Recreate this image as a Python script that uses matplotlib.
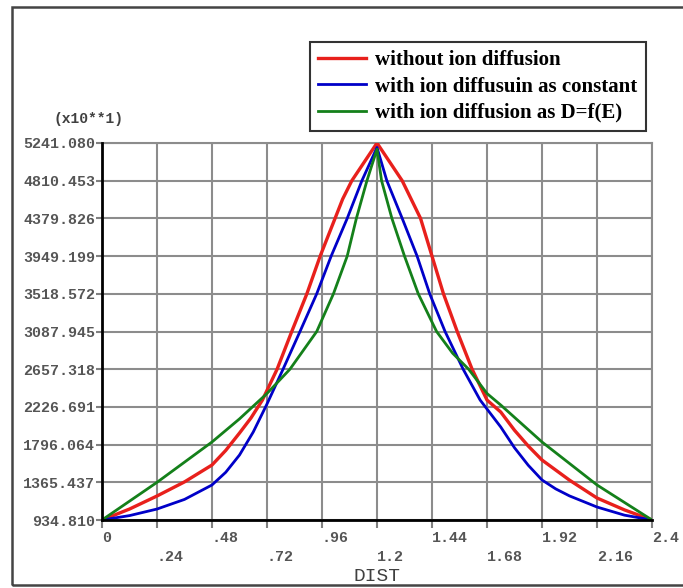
import matplotlib
matplotlib.use("Agg")
import matplotlib.pyplot as plt
from matplotlib.patches import Rectangle

W, H = 683, 588

# values (y in units of x10**1)
red_x = [0.0, 0.12, 0.24, 0.36, 0.48, 0.54, 0.60, 0.65, 0.70, 0.764, 0.828,
         0.894, 0.952, 1.017, 1.05, 1.09, 1.20, 1.31, 1.39, 1.44, 1.49, 1.55,
         1.615, 1.68, 1.74, 1.80, 1.86, 1.92, 2.04, 2.16, 2.28, 2.40]
red_y = [934.8, 1060, 1209, 1370, 1563, 1730, 1928, 2100, 2305, 2657, 3088,
         3519, 3949, 4380, 4600, 4810, 5241, 4810, 4380, 3949, 3519, 3088,
         2657, 2305, 2168, 1960, 1780, 1620, 1390, 1186, 1050, 934.8]

blue_x = [0.0, 0.12, 0.24, 0.36, 0.48, 0.54, 0.60, 0.66, 0.72, 0.79, 0.864,
          0.937, 1.00, 1.07, 1.134, 1.20, 1.243, 1.31, 1.375, 1.43, 1.497,
          1.576, 1.65, 1.74, 1.80, 1.86, 1.92, 1.98, 2.04, 2.16, 2.28, 2.40]
blue_y = [934.8, 985, 1060, 1170, 1335, 1480, 1677, 1940, 2260, 2657, 3088,
          3519, 3949, 4380, 4810, 5190, 4810, 4380, 3949, 3519, 3088,
          2657, 2305, 1997, 1760, 1560, 1392, 1290, 1210, 1083, 990, 934.8]

green_x = [0.0, 0.24, 0.48, 0.60, 0.72, 0.82, 0.937, 1.01, 1.07, 1.11, 1.156,
           1.20, 1.22, 1.265, 1.32, 1.38, 1.46, 1.53, 1.60, 1.68, 1.74, 1.92,
           2.16, 2.40]
green_y = [934.8, 1365, 1826, 2090, 2380, 2657, 3088, 3519, 3949, 4380, 4810,
           5170, 4810, 4380, 3949, 3519, 3088, 2840, 2657, 2380, 2248, 1826,
           1335, 934.8]

series_labels = ["without ion diffusion",
                 "with ion diffusuin as constant",
                 "with ion diffusion as D=f(E)"]

x_tick_labels = ["0", ".24", ".48", ".72", ".96", "1.2", "1.44", "1.68",
                 "1.92", "2.16", "2.4"]
y_tick_labels = ["934.810", "1365.437", "1796.064", "2226.691", "2657.318",
                 "3087.945", "3518.572", "3949.199", "4379.826", "4810.453",
                 "5241.080"]

TICK_FONT = dict(family="Liberation Mono", weight="bold", size=10.8, color="#555555")

fig = plt.figure(figsize=(W / 100, H / 100), dpi=100)
fig.patch.set_facecolor("white")

# outer frame of the old screenshot
fig.add_artist(Rectangle((12 / W, 3 / H), 1.0, (585 - 7) / H,
                         transform=fig.transFigure, fill=False,
                         edgecolor="#444444", linewidth=1.8))

ax = fig.add_axes([102 / W, 1 - 520 / H, 550 / W, 377 / H])

x_ticks = [float(t) for t in x_tick_labels]
y_ticks = [float(t) for t in y_tick_labels]

ax.plot(red_x, red_y, color="#e8201c", linewidth=2.4, label=series_labels[0], zorder=3)
ax.plot(blue_x, blue_y, color="#0000c8", linewidth=2.0, label=series_labels[1], zorder=4)
ax.plot(green_x, green_y, color="#14801a", linewidth=2.0, label=series_labels[2], zorder=5)

ax.set_xlim(x_ticks[0], x_ticks[-1])
ax.set_ylim(y_ticks[0], y_ticks[-1])
ax.set_xticks(x_ticks)
ax.set_yticks(y_ticks)
ax.set_xticklabels([lab if i % 2 == 0 else "\n" + lab
                    for i, lab in enumerate(x_tick_labels)],
                   ha="left", linespacing=1.45, **TICK_FONT)
ax.set_yticklabels(y_tick_labels, **TICK_FONT)
ax.tick_params(axis="x", direction="out", length=6, width=1.5, color="#808080", pad=2)
ax.tick_params(axis="y", direction="out", length=4, width=1.5, color="#808080", pad=1)

ax.grid(True, color="#8c8c8c", linewidth=1.5)
ax.set_axisbelow(True)
for side in ("left", "bottom"):
    ax.spines[side].set_color("black")
    ax.spines[side].set_linewidth(2.0)
    ax.spines[side].set_zorder(6)
for side in ("top", "right"):
    ax.spines[side].set_color("#8c8c8c")
    ax.spines[side].set_linewidth(1.5)

ax.set_xlabel("DIST", family="Liberation Mono", size=14, color="#404040", labelpad=3)
fig.text(88 / W, 1 - 119 / H, "(x10**1)", ha="center", va="center",
         family="Liberation Mono", weight="bold", size=10.5, color="#404040")

leg = fig.legend(loc="upper left", bbox_to_anchor=(310 / W, 1 - 42 / H),
                 prop=dict(family="Liberation Serif", weight="bold", size=15),
                 frameon=True, fancybox=False, handlelength=2.3,
                 handletextpad=0.43, borderpad=0.4, labelspacing=0.3,
                 borderaxespad=0)
leg.get_frame().set_edgecolor("black")
leg.get_frame().set_linewidth(1.5)

fig.savefig("out.png", dpi=100)
